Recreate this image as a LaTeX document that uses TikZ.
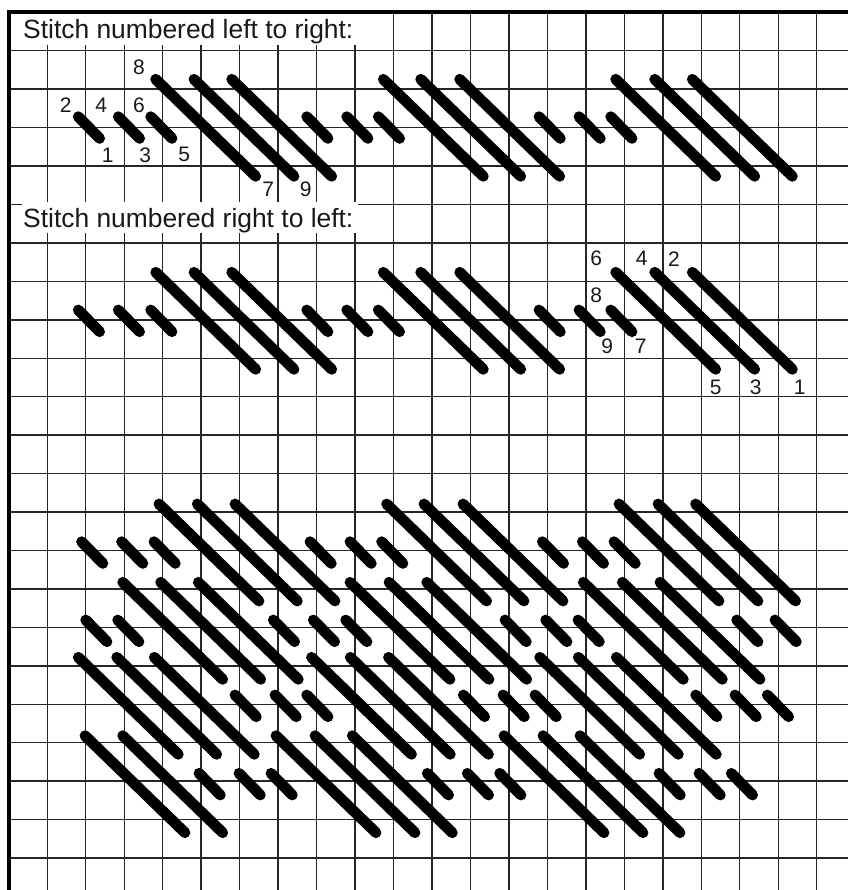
\documentclass[tikz,border=0pt]{standalone}
\usepackage{fontspec}
\setmainfont{Liberation Sans}
\tikzset{
  gridline/.style={line width=1.45pt,draw=black!85},
  frameline/.style={line width=4.4pt,draw=black},
  stitch/.style={line width=10.8pt,draw=black,line cap=round},
  digit/.style={font=\fontsize{21}{21}\selectfont,text=black!90,inner sep=0pt,anchor=center},
  caption/.style={font=\fontsize{26.4}{26.4}\selectfont,text=black!90,inner sep=0pt,anchor=base west},
  mask/.style={fill=white,draw=none}
}
\begin{document}
\begin{tikzpicture}[x=1pt,y=-1pt]
\useasboundingbox (0,0) rectangle (848,890);
\fill[white] (0,0) rectangle (848,890);
% grid
\foreach \i in {0,...,20}{
  \draw[gridline] ({47.3+38.47*\i},12) -- ({47.3+38.47*\i},890);
}
\foreach \j in {1,...,22}{
  \draw[gridline] (9,{12.2+38.45*\j}) -- (848,{12.2+38.45*\j});
}
% caption masks
\fill[mask] (12,14) rectangle (358,45);
\fill[mask] (22,202.4) rectangle (358,233);
% frame
\draw[frameline] (9,890) -- (9,12) -- (848,12);
% captions
\node[caption] (cap1) at (23,38.3) {Stitch numbered left to right:};
\node[caption] (cap2) at (23,227.7) {Stitch numbered right to left:};
% long stitches
\foreach \y/\xs in {
  79.3/{155.7,194,231.7,383.3,420.7,459.7,615.7,654.7,692.3},
  272.3/{155.7,194,231.7,383.3,420.7,459.7,615.7,654.7,692.3},
  504/{159,197.3,235,386.6,424,463,619,658,695.6},
  582.3/{122.7,160.7,198.3,350,389,426.7,583.3,622.3,660},
  657.3/{78.3,116.7,154.3,311.5,350.3,388.5,539.7,578.3,616.3},
  735.7/{85,122.7,276,315,352.3,504,543,580}}{
  \foreach \x in \xs {
    \draw[stitch] (\x,\y) -- ++(100,97);
  }
}
% short stitches
\foreach \y/\xs in {
  116.7/{78.3,118.3,150.7,306.7,346.7,378.3,539,579,610.7},
  310/{78.3,118.3,150.7,306.7,346.7,378.3,539,579,610.7},
  541.7/{81.6,121.6,154,310,350,381.6,542.3,582.3,614},
  620/{85.7,117.7,273.3,313.3,345.7,505,545.7,578,736.7,775},
  695/{235,275,306.7,463.3,503,535,695.7,735,767.3},
  773.3/{199,239,271,427.3,467.3,499.7,659,699,731.3}}{
  \foreach \x in \xs {
    \draw[stitch] (\x,\y) -- ++(21.3,21.7);
  }
}
% numbers, row 1
\node[digit] (a8) at (139,67.7) {8};
\node[digit] (a2) at (65.7,105) {2};
\node[digit] (a4) at (101.3,105) {4};
\node[digit] (a6) at (139,105) {6};
\node[digit] (a1) at (107.7,155) {1};
\node[digit] (a3) at (145.3,155) {3};
\node[digit] (a5) at (184.3,154.5) {5};
\node[digit] (a7) at (268.3,189.3) {7};
\node[digit] (a9) at (305.7,189.3) {9};
% numbers, row 2
\node[digit] (b6) at (596.3,258.7) {6};
\node[digit] (b4) at (641.7,258.7) {4};
\node[digit] (b2) at (674,258.7) {2};
\node[digit] (b8) at (596.3,295) {8};
\node[digit] (b9) at (607.3,346.7) {9};
\node[digit] (b7) at (640.7,346.7) {7};
\node[digit] (b5) at (715.7,387.3) {5};
\node[digit] (b3) at (755.7,387.3) {3};
\node[digit] (b1) at (799.7,387.3) {1};
\end{tikzpicture}
\end{document}
